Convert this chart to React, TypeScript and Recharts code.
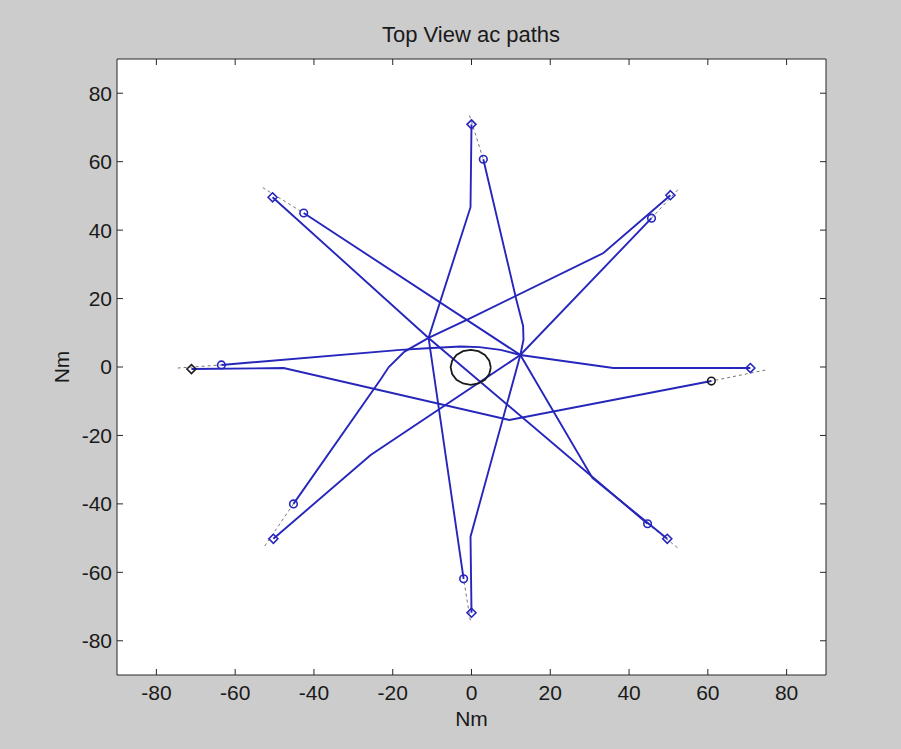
import React from 'react';
import { ComposedChart, Line, Scatter, XAxis, YAxis, CartesianGrid } from 'recharts';

const axisTicks = [-80, -60, -40, -20, 0, 20, 40, 60, 80];

// aircraft paths (Nm)
const pathA = [{ x: 0, y: 70.9 }, { x: -0.25, y: 46.7 }, { x: -10.9, y: 8.5 }, { x: -2.0, y: -61.9 }];
const pathB = [{ x: 0, y: -71.8 }, { x: -0.25, y: -49.6 }, { x: 12.4, y: 3.5 }, { x: 13.2, y: 8 }, { x: 13.1, y: 12 }, { x: 11.4, y: 19.6 }, { x: 3.0, y: 60.7 }];
const pathC = [{ x: -50.5, y: 49.6 }, { x: -10.9, y: 8.5 }, { x: 44.7, y: -45.8 }];
const pathD = [{ x: 49.7, y: -50.2 }, { x: 30.7, y: -32.4 }, { x: 12.4, y: 3.5 }, { x: -42.6, y: 45 }];
const pathE = [{ x: 50.5, y: 50.2 }, { x: 33.5, y: 33.3 }, { x: -0.25, y: 14.3 }, { x: -10.9, y: 8.5 }, { x: -17, y: 4.5 }, { x: -21, y: 0 }, { x: -23, y: -3.5 }, { x: -45.2, y: -40 }];
const pathF = [{ x: -50.3, y: -50.2 }, { x: -25.6, y: -25.7 }, { x: 12.4, y: 3.5 }, { x: 45.7, y: 43.5 }];
const pathG = [{ x: 70.8, y: -0.3 }, { x: 36, y: -0.3 }, { x: 12.4, y: 3.5 }, { x: 7.4, y: 5 }, { x: 2, y: 5.8 }, { x: -2.8, y: 6 }, { x: -11.2, y: 5.5 }, { x: -18, y: 5 }, { x: -63.5, y: 0.6 }];
const pathH = [{ x: -71.1, y: -0.6 }, { x: -47.7, y: -0.3 }, { x: 9.6, y: -15.5 }, { x: 60.9, y: -4.1 }];

// own-ship loiter loop
const loop = [
  { x: 4.9, y: -0.1 }, { x: 4.51, y: 1.85 }, { x: 3.41, y: 3.51 }, { x: 1.75, y: 4.61 }, { x: -0.2, y: 5.0 },
  { x: -2.15, y: 4.61 }, { x: -3.81, y: 3.51 }, { x: -4.91, y: 1.85 }, { x: -5.3, y: -0.1 }, { x: -4.91, y: -2.05 },
  { x: -3.81, y: -3.71 }, { x: -2.15, y: -4.81 }, { x: -0.2, y: -5.2 }, { x: 1.75, y: -4.81 }, { x: 3.41, y: -3.71 },
  { x: 4.51, y: -2.05 }, { x: 4.9, y: -0.1 },
];

// dashed direct lines
const dashTop = [{ x: -0.5, y: 73.5 }, { x: 3.0, y: 60.7 }];
const dashUL = [{ x: -53, y: 52.4 }, { x: -42.6, y: 45 }];
const dashUR = [{ x: 52.4, y: 51.8 }, { x: 45.7, y: 43.5 }];
const dashR = [{ x: 74.6, y: -0.9 }, { x: 60.9, y: -4.1 }];
const dashL = [{ x: -74.6, y: -0.3 }, { x: -63.5, y: 0.6 }];
const dashLL = [{ x: -52.5, y: -52.3 }, { x: -45.2, y: -40 }];
const dashLR = [{ x: 52.3, y: -52.8 }, { x: 44.7, y: -45.8 }];
const dashBot = [{ x: -0.3, y: -74 }, { x: -2.0, y: -61.9 }];

const startDiamonds = [{ x: 0, y: 70.9 }, { x: -50.5, y: 49.6 }, { x: 50.5, y: 50.2 }, { x: 70.8, y: -0.3 }, { x: -50.3, y: -50.2 }, { x: 49.7, y: -50.2 }, { x: 0, y: -71.8 }];
const endCircles = [{ x: 3.0, y: 60.7 }, { x: -42.6, y: 45 }, { x: 45.7, y: 43.5 }, { x: -63.5, y: 0.6 }, { x: -45.2, y: -40 }, { x: 44.7, y: -45.8 }, { x: -2.0, y: -61.9 }];
const ownDiamond = [{ x: -71.1, y: -0.6 }];
const ownCircle = [{ x: 60.9, y: -4.1 }];

const BLUE = '#2626bc';
const AXIS = '#262626';
const FONT = '"Liberation Sans", Arial, Helvetica, sans-serif';

const bluePaths = [pathA, pathB, pathC, pathD, pathE, pathF, pathG, pathH];
const dashes = [dashTop, dashUL, dashUR, dashR, dashL, dashLL, dashLR, dashBot];

const makeDiamond = (color: string) => (props: any) => {
  const { cx, cy } = props;
  const s = 4.5;
  return (
    <polygon
      points={`${cx},${cy - s} ${cx + s},${cy} ${cx},${cy + s} ${cx - s},${cy}`}
      fill="none"
      stroke={color}
      strokeWidth={1.6}
    />
  );
};
const makeCircle = (color: string) => (props: any) => {
  const { cx, cy } = props;
  return <circle cx={cx} cy={cy} r={3.8} fill="none" stroke={color} strokeWidth={1.6} />;
};

const empty = () => <g />;

export default function App() {
  return (
    <div style={{ position: 'absolute', left: 0, top: 0, width: 901, height: 749, background: '#cccccc', fontFamily: FONT }}>
      <div
        style={{
          position: 'absolute',
          left: 0,
          top: 24,
          width: 942,
          textAlign: 'center',
          fontSize: 22,
          lineHeight: '22px',
          color: '#1a1a1a',
        }}
      >
        Top View ac paths
      </div>
      <ComposedChart width={901} height={749} margin={{ top: 59, right: 75, left: 0, bottom: 0 }}>
        <CartesianGrid horizontal={false} vertical={false} fill="#ffffff" stroke="none" xAxisId="x" yAxisId="y" />
        <XAxis
          xAxisId="x"
          type="number"
          dataKey="x"
          domain={[-90, 90]}
          ticks={axisTicks}
          allowDataOverflow
          height={74}
          tickSize={0}
          tickMargin={10}
          stroke={AXIS}
          tick={{ fontSize: 21, fill: '#1a1a1a', fontFamily: FONT }}
          label={{ value: 'Nm', position: 'insideBottom', offset: 23, fontSize: 21, fill: '#1a1a1a', fontFamily: FONT }}
        />
        <XAxis
          xAxisId="xb"
          type="number"
          dataKey="x"
          orientation="bottom"
          mirror
          domain={[-90, 90]}
          ticks={axisTicks}
          allowDataOverflow
          axisLine={false}
          tickSize={6}
          tickLine={{ stroke: AXIS }}
          tick={empty}
          height={10}
        />
        <XAxis
          xAxisId="xt"
          type="number"
          dataKey="x"
          orientation="top"
          mirror
          domain={[-90, 90]}
          ticks={axisTicks}
          allowDataOverflow
          axisLine={{ stroke: AXIS }}
          tickSize={6}
          tickLine={{ stroke: AXIS }}
          tick={empty}
          height={10}
        />
        <YAxis
          yAxisId="y"
          type="number"
          dataKey="y"
          domain={[-90, 90]}
          ticks={axisTicks}
          allowDataOverflow
          width={117}
          tickSize={0}
          tickMargin={5}
          stroke={AXIS}
          tick={{ fontSize: 21, fill: '#1a1a1a', fontFamily: FONT }}
          label={{
            content: (p: any) => {
              const vb = p.viewBox || { x: 0, y: 59, width: 117, height: 616 };
              const cx = vb.x + 69;
              const cy = vb.y + vb.height / 2;
              return (
                <text
                  x={cx}
                  y={cy}
                  transform={`rotate(-90 ${cx} ${cy})`}
                  textAnchor="middle"
                  fontSize={21}
                  fill="#1a1a1a"
                  fontFamily={FONT}
                >
                  Nm
                </text>
              );
            },
          }}
        />
        <YAxis
          yAxisId="yl"
          type="number"
          dataKey="y"
          orientation="left"
          mirror
          domain={[-90, 90]}
          ticks={axisTicks}
          allowDataOverflow
          axisLine={false}
          tickSize={6}
          tickLine={{ stroke: AXIS }}
          tick={empty}
          width={10}
        />
        <YAxis
          yAxisId="yr"
          type="number"
          dataKey="y"
          orientation="right"
          mirror
          domain={[-90, 90]}
          ticks={axisTicks}
          allowDataOverflow
          axisLine={{ stroke: AXIS }}
          tickSize={6}
          tickLine={{ stroke: AXIS }}
          tick={empty}
          width={10}
        />
        {dashes.map((d, i) => (
          <Line
            key={`d${i}`}
            xAxisId="x"
            yAxisId="y"
            data={d}
            dataKey="y"
            type="linear"
            stroke="#777777"
            strokeWidth={1}
            strokeDasharray="3 3"
            dot={false}
            activeDot={false}
            isAnimationActive={false}
          />
        ))}
        {bluePaths.map((d, i) => (
          <Line
            key={`p${i}`}
            xAxisId="x"
            yAxisId="y"
            data={d}
            dataKey="y"
            type="linear"
            stroke={BLUE}
            strokeWidth={1.9}
            dot={false}
            activeDot={false}
            isAnimationActive={false}
          />
        ))}
        <Line
          xAxisId="x"
          yAxisId="y"
          data={loop}
          dataKey="y"
          type="linear"
          stroke="#1a1a1a"
          strokeWidth={1.8}
          dot={false}
          activeDot={false}
          isAnimationActive={false}
        />
        <Scatter xAxisId="x" yAxisId="y" data={startDiamonds} dataKey="y" shape={makeDiamond(BLUE)} isAnimationActive={false} />
        <Scatter xAxisId="x" yAxisId="y" data={endCircles} dataKey="y" shape={makeCircle(BLUE)} isAnimationActive={false} />
        <Scatter xAxisId="x" yAxisId="y" data={ownDiamond} dataKey="y" shape={makeDiamond('#1a1a1a')} isAnimationActive={false} />
        <Scatter xAxisId="x" yAxisId="y" data={ownCircle} dataKey="y" shape={makeCircle('#1a1a1a')} isAnimationActive={false} />
      </ComposedChart>
    </div>
  );
}
